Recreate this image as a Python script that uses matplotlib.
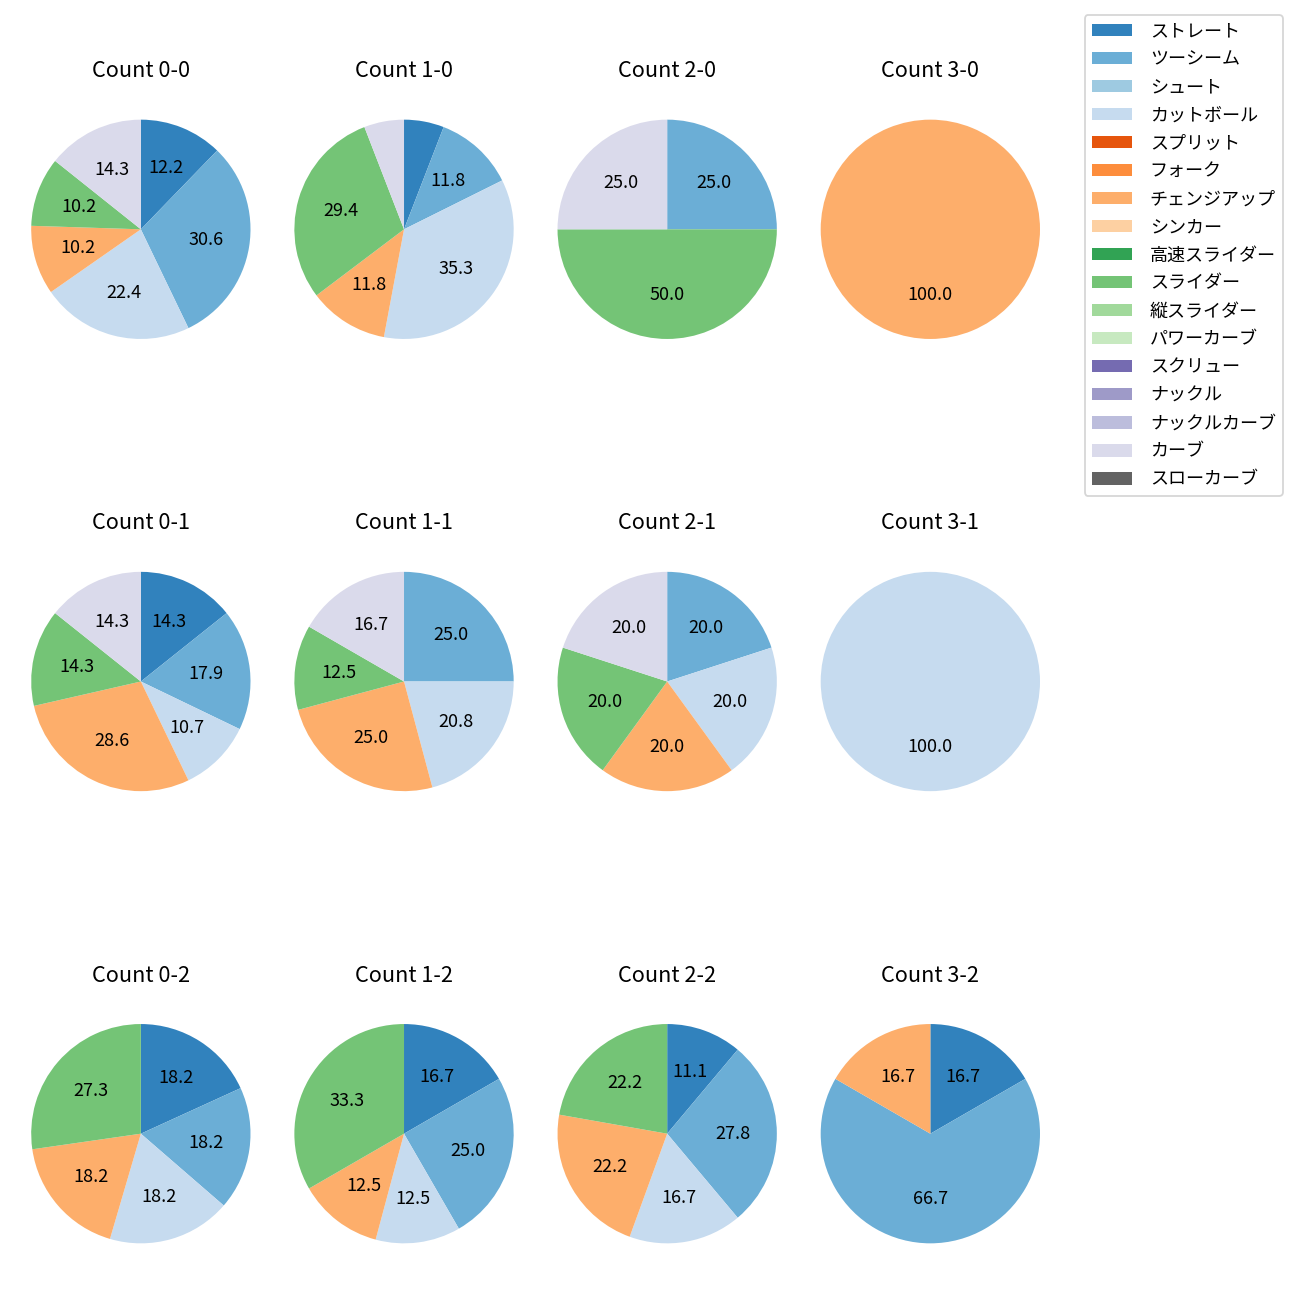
import numpy as np
import matplotlib
matplotlib.use("Agg")
import matplotlib.pyplot as plt
from matplotlib.patches import Patch

plt.rcParams['font.family'] = ['Noto Sans CJK JP', 'DejaVu Sans']

pitch_names = ['ストレート', 'ツーシーム', 'シュート', 'カットボール', 'スプリット', 'フォーク',
               'チェンジアップ', 'シンカー', '高速スライダー', 'スライダー', '縦スライダー',
               'パワーカーブ', 'スクリュー', 'ナックル', 'ナックルカーブ', 'カーブ', 'スローカーブ']
colors = ['#3182bd', '#6baed6', '#9ecae1', '#c6dbef', '#e6550d', '#fd8d3c', '#fdae6b',
          '#fdd0a2', '#31a354', '#74c476', '#a1d99b', '#c7e9c0', '#756bb1', '#9e9ac8',
          '#bcbddc', '#dadaeb', '#636363']

balls = [0, 1, 2, 3]
strikes = [0, 1, 2]

# pitch counts per ball-strike count, in pitch_names order
c_0_0 = [6, 15, 0, 11, 0, 0, 5, 0, 0, 5, 0, 0, 0, 0, 0, 7, 0]
c_1_0 = [1, 2, 0, 6, 0, 0, 2, 0, 0, 5, 0, 0, 0, 0, 0, 1, 0]
c_2_0 = [0, 1, 0, 0, 0, 0, 0, 0, 0, 2, 0, 0, 0, 0, 0, 1, 0]
c_3_0 = [0, 0, 0, 0, 0, 0, 1, 0, 0, 0, 0, 0, 0, 0, 0, 0, 0]
c_0_1 = [4, 5, 0, 3, 0, 0, 8, 0, 0, 4, 0, 0, 0, 0, 0, 4, 0]
c_1_1 = [0, 6, 0, 5, 0, 0, 6, 0, 0, 3, 0, 0, 0, 0, 0, 4, 0]
c_2_1 = [0, 1, 0, 1, 0, 0, 1, 0, 0, 1, 0, 0, 0, 0, 0, 1, 0]
c_3_1 = [0, 0, 0, 1, 0, 0, 0, 0, 0, 0, 0, 0, 0, 0, 0, 0, 0]
c_0_2 = [2, 2, 0, 2, 0, 0, 2, 0, 0, 3, 0, 0, 0, 0, 0, 0, 0]
c_1_2 = [4, 6, 0, 3, 0, 0, 3, 0, 0, 8, 0, 0, 0, 0, 0, 0, 0]
c_2_2 = [2, 5, 0, 3, 0, 0, 4, 0, 0, 4, 0, 0, 0, 0, 0, 0, 0]
c_3_2 = [1, 4, 0, 0, 0, 0, 1, 0, 0, 0, 0, 0, 0, 0, 0, 0, 0]

data = {
    (0, 0): c_0_0, (1, 0): c_1_0, (2, 0): c_2_0, (3, 0): c_3_0,
    (0, 1): c_0_1, (1, 1): c_1_1, (2, 1): c_2_1, (3, 1): c_3_1,
    (0, 2): c_0_2, (1, 2): c_1_2, (2, 2): c_2_2, (3, 2): c_3_2,
}


def pct_label(p):
    return f'{p:.1f}' if p >= 10 else ''


fig, axes = plt.subplots(3, 4, figsize=(10, 10), dpi=130)
plt.subplots_adjust(left=0.024, right=0.8, top=1 - 88 / 1300, bottom=25 / 1300,
                    wspace=0.2, hspace=0.6)

for s in strikes:
    for b in balls:
        ax = axes[s][b]
        vals = np.array(data[(b, s)], dtype=float)
        mask = vals > 0
        ax.pie(vals[mask], colors=[c for c, m in zip(colors, mask) if m],
               startangle=90, counterclock=False, autopct=pct_label,
               textprops={'fontsize': 10})
        ax.set_xlim(-1, 1)
        ax.set_ylim(-1, 1)
        ax.set_aspect('equal', adjustable='datalim')
        ax.set_title(f'Count {b}-{s}', fontsize=12)

handles = [Patch(facecolor=c) for c in colors]
fig.legend(handles, pitch_names, loc='upper right', fontsize=10,
           handlelength=2.2, handletextpad=1.0, labelspacing=0.555,
           bbox_to_anchor=(1283 / 1300, 1 - 15 / 1300), borderaxespad=0)

plt.savefig('out.png')
plt.close()
